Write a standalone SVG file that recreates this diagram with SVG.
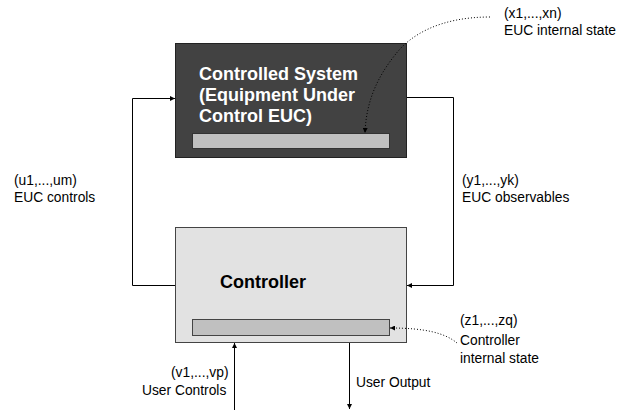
<svg xmlns="http://www.w3.org/2000/svg" width="632" height="414" viewBox="0 0 632 414">
<style>
.t{font-family:"Liberation Sans",Arial,sans-serif;font-size:13.8px;fill:#000}
.b{font-family:"Liberation Sans",Arial,sans-serif;font-size:18px;font-weight:bold}
.w{fill:none;stroke:#000;stroke-width:1}
.d{fill:none;stroke:#000;stroke-width:1;stroke-dasharray:1 2}
</style>
<defs>
<marker id="a" viewBox="0 0 6 6" refX="6" refY="3" markerWidth="5" markerHeight="5" orient="auto" markerUnits="userSpaceOnUse">
<path d="M0,0L6,3L0,6z" fill="#000"/>
</marker>
</defs>
<rect width="632" height="414" fill="#fff"/>
<g id="euc">
<rect x="175.5" y="43.5" width="231" height="114" fill="#424242" stroke="#222"/>
<rect x="192.5" y="133.5" width="197" height="15" fill="#c0c0c0" stroke="#333"/>
<text class="b" fill="#fff" x="199" y="80">Controlled System</text>
<text class="b" fill="#fff" x="199" y="101">(Equipment Under</text>
<text class="b" fill="#fff" x="199" y="122">Control EUC)</text>
</g>
<g id="controller">
<rect x="175.5" y="227.5" width="231" height="115" fill="#e2e2e2" stroke="#444"/>
<rect x="192.5" y="319.5" width="197" height="16" fill="#c0c0c0" stroke="#444"/>
<text class="b" fill="#000" x="220" y="288">Controller</text>
</g>
<g id="connectors">
<path class="w" d="M175,285.5H132.5V98.5H175" marker-end="url(#a)"/>
<path class="w" d="M407,97.5H453.5V285.5H407" marker-end="url(#a)"/>
<path class="w" d="M234.5,410V343" marker-end="url(#a)"/>
<path class="w" d="M349.5,343V409" marker-end="url(#a)"/>
<path class="d" d="M490,17C440,17 410,35 395,55C375,80 366,105 365,133" marker-end="url(#a)"/>
<path class="d" d="M457,343C445,333 425,328 390,328" marker-end="url(#a)"/>
</g>
<g id="labels">
<text class="t" x="504" y="18">(x1,...,xn)</text>
<text class="t" x="504" y="35">EUC internal state</text>
<text class="t" x="14" y="185">(u1,...,um)</text>
<text class="t" x="14" y="202">EUC controls</text>
<text class="t" x="462" y="185">(y1,...,yk)</text>
<text class="t" x="462" y="202">EUC observables</text>
<text class="t" x="460" y="325">(z1,...,zq)</text>
<text class="t" x="460" y="345">Controller</text>
<text class="t" x="460" y="363">internal state</text>
<text class="t" x="171" y="377">(v1,...,vp)</text>
<text class="t" x="142" y="395">User Controls</text>
<text class="t" x="356" y="387">User Output</text>
</g>
</svg>
